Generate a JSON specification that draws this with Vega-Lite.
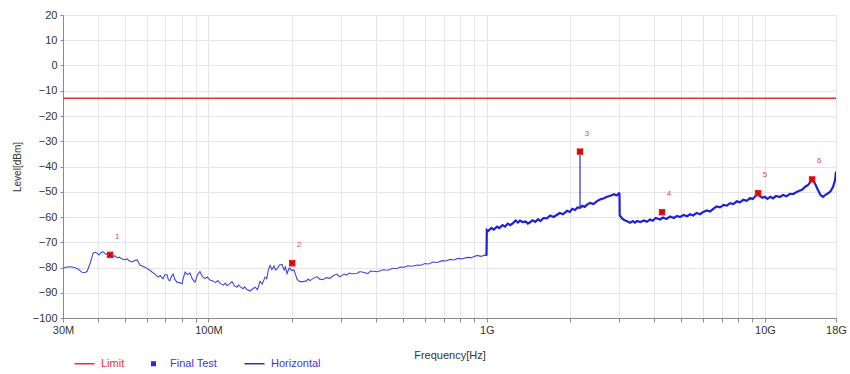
{
  "$schema": "https://vega.github.io/schema/vega-lite/v6.json",
  "width": 773,
  "height": 303,
  "autosize": {"type": "none"},
  "padding": {"left": 63, "top": 15, "right": 14, "bottom": 56},
  "background": "white",
  "config": {
    "font": "Liberation Sans",
    "view": {"stroke": "#d9d9d9"},
    "axis": {
      "labelColor": "#333333",
      "labelFontSize": 11,
      "titleColor": "#333333",
      "titleFontSize": 11,
      "titleFontWeight": "normal",
      "domainColor": "#8a8a8a",
      "tickColor": "#8a8a8a",
      "gridColor": "#e6e6e6"
    }
  },
  "datasets": {
    "limit": [{"series": "Limit", "level": -13}],
    "spike": [{"f": 2164, "level": -34.1, "base": -56.4}],
    "traceLow": [
      {"f": 30, "level": -80.2}, {"f": 31, "level": -79.8}, {"f": 31.8, "level": -79.7}, {"f": 33, "level": -80.0},
      {"f": 34, "level": -80.6}, {"f": 35.1, "level": -81.9}, {"f": 36, "level": -82.0}, {"f": 36.6, "level": -81.6},
      {"f": 37.5, "level": -78.5}, {"f": 38.1, "level": -76.0}, {"f": 38.5, "level": -74.3}, {"f": 39.2, "level": -74.0},
      {"f": 39.8, "level": -74.3}, {"f": 40.3, "level": -75.0}, {"f": 40.7, "level": -74.6}, {"f": 41.2, "level": -74.0},
      {"f": 41.8, "level": -73.8}, {"f": 42.6, "level": -74.6}, {"f": 43.5, "level": -75.0}, {"f": 44.3, "level": -75.3},
      {"f": 45.2, "level": -75.6}, {"f": 46.1, "level": -75.4}, {"f": 47, "level": -76.2}, {"f": 47.8, "level": -75.9},
      {"f": 48.9, "level": -76.6}, {"f": 50, "level": -76.9}, {"f": 51, "level": -76.6}, {"f": 52, "level": -77.4},
      {"f": 53.1, "level": -77.8}, {"f": 54.2, "level": -77.2}, {"f": 55.4, "level": -77.0}, {"f": 56.1, "level": -78.0},
      {"f": 56.7, "level": -79.0}, {"f": 58, "level": -79.5}, {"f": 59.1, "level": -79.9}, {"f": 61, "level": -80.8},
      {"f": 62.7, "level": -81.8}, {"f": 64.2, "level": -82.6}, {"f": 65.9, "level": -83.8}, {"f": 67, "level": -83.2},
      {"f": 68.6, "level": -84.5}, {"f": 69.6, "level": -83.0}, {"f": 70.9, "level": -82.8}, {"f": 71.8, "level": -84.9},
      {"f": 72.7, "level": -85.2}, {"f": 73.6, "level": -83.5}, {"f": 74.6, "level": -82.6}, {"f": 75.8, "level": -84.8},
      {"f": 77.1, "level": -85.8}, {"f": 78.7, "level": -86.0}, {"f": 80.3, "level": -86.4}, {"f": 81.3, "level": -84.0},
      {"f": 82.4, "level": -81.8}, {"f": 84, "level": -82.8}, {"f": 85.8, "level": -82.2}, {"f": 87.5, "level": -84.6},
      {"f": 89.5, "level": -85.8}, {"f": 91.2, "level": -83.0}, {"f": 93.2, "level": -81.6}, {"f": 95, "level": -83.5},
      {"f": 97.2, "level": -84.4}, {"f": 99, "level": -83.8}, {"f": 101.3, "level": -85.0}, {"f": 103.8, "level": -85.3},
      {"f": 106, "level": -86.0}, {"f": 108, "level": -85.2}, {"f": 110, "level": -86.2}, {"f": 113, "level": -87.0},
      {"f": 115, "level": -86.2}, {"f": 116.6, "level": -87.2},
      {"f": 119, "level": -86.5}, {"f": 121.5, "level": -85.6}, {"f": 124, "level": -87.3}, {"f": 126.7, "level": -87.8},
      {"f": 128, "level": -86.9}, {"f": 130, "level": -87.6}, {"f": 133.1, "level": -88.4}, {"f": 135, "level": -87.7}, {"f": 137, "level": -88.6}, {"f": 141, "level": -89.3},
      {"f": 144, "level": -88.5}, {"f": 147, "level": -87.8}, {"f": 150, "level": -88.8}, {"f": 153.2, "level": -85.5},
      {"f": 156, "level": -86.5}, {"f": 159.7, "level": -83.8}, {"f": 162, "level": -84.4}, {"f": 164, "level": -81.0},
      {"f": 166.4, "level": -79.2}, {"f": 169, "level": -80.8}, {"f": 172, "level": -79.4}, {"f": 174, "level": -81.0}, {"f": 176.3, "level": -80.6},
      {"f": 180, "level": -79.0}, {"f": 183.8, "level": -78.8}, {"f": 187, "level": -81.0}, {"f": 189, "level": -79.8}, {"f": 191.6, "level": -82.4},
      {"f": 195, "level": -80.2}, {"f": 199.6, "level": -81.2}, {"f": 203, "level": -81.0}, {"f": 208, "level": -84.6},
      {"f": 213, "level": -85.6}, {"f": 218.7, "level": -85.6}, {"f": 225, "level": -85.3}, {"f": 228, "level": -84.6}, {"f": 231.8, "level": -85.2},
      {"f": 238, "level": -84.3}, {"f": 245.6, "level": -83.6}, {"f": 251, "level": -84.6}, {"f": 258, "level": -84.8},
      {"f": 265, "level": -84.0}, {"f": 273.5, "level": -84.3}, {"f": 281, "level": -83.2}, {"f": 289.7, "level": -82.6},
      {"f": 295, "level": -83.6}, {"f": 300, "level": -83.4}, {"f": 307, "level": -82.6}, {"f": 314.8, "level": -83.0}, {"f": 320, "level": -82.2}, {"f": 328, "level": -82.5}, {"f": 342, "level": -82.4},
      {"f": 350, "level": -81.6}, {"f": 359, "level": -81.9}, {"f": 374, "level": -82.4}, {"f": 382, "level": -81.4}, {"f": 390, "level": -81.5}, {"f": 405, "level": -81.7},
      {"f": 424, "level": -80.9}, {"f": 440, "level": -81.1}, {"f": 460, "level": -80.3}, {"f": 475, "level": -80.5},
      {"f": 488, "level": -79.8}, {"f": 505, "level": -79.9}, {"f": 521, "level": -79.3}, {"f": 540, "level": -79.5},
      {"f": 562, "level": -79.0}, {"f": 580, "level": -79.1}, {"f": 600, "level": -78.4}, {"f": 620, "level": -78.6},
      {"f": 641, "level": -77.8}, {"f": 665, "level": -78.0}, {"f": 691, "level": -77.3}, {"f": 712, "level": -77.4},
      {"f": 738, "level": -76.8}, {"f": 760, "level": -77.0}, {"f": 789, "level": -76.4}, {"f": 815, "level": -76.6},
      {"f": 849, "level": -76.0}, {"f": 880, "level": -76.1}, {"f": 923, "level": -75.2}, {"f": 955, "level": -75.6},
      {"f": 986, "level": -75.1}, {"f": 998, "level": -75.3}
    ],
    "traceHigh": [
      {"f": 998, "level": -75.3}, {"f": 1001, "level": -65.2}, {"f": 1011, "level": -65.6},
      {"f": 1040, "level": -64.3}, {"f": 1060, "level": -65.0}, {"f": 1089, "level": -63.8}, {"f": 1110, "level": -64.4},
      {"f": 1140, "level": -63.2}, {"f": 1164, "level": -63.8}, {"f": 1190, "level": -62.6}, {"f": 1215, "level": -63.2},
      {"f": 1243, "level": -62.4}, {"f": 1270, "level": -61.4}, {"f": 1295, "level": -62.2}, {"f": 1317, "level": -61.4},
      {"f": 1345, "level": -62.0}, {"f": 1380, "level": -61.8}, {"f": 1405, "level": -62.6}, {"f": 1431, "level": -62.1},
      {"f": 1460, "level": -61.3}, {"f": 1495, "level": -61.9}, {"f": 1529, "level": -60.9}, {"f": 1560, "level": -61.6},
      {"f": 1600, "level": -60.4}, {"f": 1647, "level": -60.5}, {"f": 1690, "level": -59.4}, {"f": 1740, "level": -60.0},
      {"f": 1789, "level": -59.1}, {"f": 1830, "level": -58.4}, {"f": 1880, "level": -58.9}, {"f": 1944, "level": -57.5},
      {"f": 1990, "level": -58.0}, {"f": 2030, "level": -56.8}, {"f": 2077, "level": -57.2}, {"f": 2120, "level": -56.2},
      {"f": 2164, "level": -56.4}, {"f": 2200, "level": -55.6},
      {"f": 2250, "level": -56.0}, {"f": 2294, "level": -55.1}, {"f": 2350, "level": -54.4}, {"f": 2420, "level": -54.9},
      {"f": 2492, "level": -53.7}, {"f": 2560, "level": -53.0}, {"f": 2640, "level": -52.6}, {"f": 2707, "level": -52.0},
      {"f": 2780, "level": -51.6}, {"f": 2868, "level": -51.0}, {"f": 2930, "level": -51.5}, {"f": 2989, "level": -50.6},
      {"f": 3000, "level": -50.8}, {"f": 3005, "level": -59.4}, {"f": 3030, "level": -59.8}, {"f": 3064, "level": -60.6},
      {"f": 3120, "level": -61.2}, {"f": 3180, "level": -61.6}, {"f": 3274, "level": -62.3}, {"f": 3350, "level": -61.6},
      {"f": 3410, "level": -62.2}, {"f": 3470, "level": -61.6}, {"f": 3560, "level": -62.0}, {"f": 3676, "level": -61.4},
      {"f": 3760, "level": -61.9}, {"f": 3864, "level": -61.0}, {"f": 3950, "level": -61.5}, {"f": 4050, "level": -60.4},
      {"f": 4197, "level": -61.0}, {"f": 4300, "level": -60.2}, {"f": 4420, "level": -60.8}, {"f": 4559, "level": -59.8},
      {"f": 4700, "level": -60.4}, {"f": 4830, "level": -59.6}, {"f": 4952, "level": -60.0}, {"f": 5100, "level": -59.2},
      {"f": 5250, "level": -59.7}, {"f": 5381, "level": -58.9}, {"f": 5520, "level": -59.4}, {"f": 5680, "level": -58.4},
      {"f": 5845, "level": -58.9}, {"f": 6000, "level": -58.0}, {"f": 6180, "level": -57.4}, {"f": 6349, "level": -57.8},
      {"f": 6520, "level": -56.8}, {"f": 6700, "level": -55.8}, {"f": 6898, "level": -56.2}, {"f": 7100, "level": -55.2},
      {"f": 7300, "level": -55.5}, {"f": 7491, "level": -54.5}, {"f": 7700, "level": -54.9}, {"f": 7920, "level": -53.8},
      {"f": 8138, "level": -54.2}, {"f": 8350, "level": -53.2}, {"f": 8600, "level": -53.6}, {"f": 8841, "level": -52.5},
      {"f": 9050, "level": -52.9}, {"f": 9250, "level": -51.6}, {"f": 9445, "level": -51.0}, {"f": 9600, "level": -51.8},
      {"f": 9800, "level": -52.4}, {"f": 10000, "level": -52.0}, {"f": 10200, "level": -52.8}, {"f": 10450, "level": -52.0},
      {"f": 10690, "level": -52.6}, {"f": 10950, "level": -51.7}, {"f": 11300, "level": -52.1}, {"f": 11620, "level": -51.3},
      {"f": 11950, "level": -51.8}, {"f": 12300, "level": -50.8}, {"f": 12620, "level": -50.9}, {"f": 12950, "level": -50.2},
      {"f": 13300, "level": -49.6}, {"f": 13600, "level": -49.2}, {"f": 13950, "level": -48.0}, {"f": 14290, "level": -47.3},
      {"f": 14600, "level": -46.0}, {"f": 14890, "level": -45.4}, {"f": 15200, "level": -47.2}, {"f": 15520, "level": -49.4},
      {"f": 15850, "level": -51.4}, {"f": 16180, "level": -52.0}, {"f": 16500, "level": -51.2}, {"f": 16860, "level": -50.6},
      {"f": 17200, "level": -49.8}, {"f": 17570, "level": -48.0}, {"f": 17850, "level": -45.5}, {"f": 18000, "level": -42.0}
    ],
    "markers": [
      {"n": "1", "f": 44.3, "level": -75.0},
      {"n": "2", "f": 200, "level": -78.3},
      {"n": "3", "f": 2164, "level": -34.1},
      {"n": "4", "f": 4267, "level": -58.1},
      {"n": "5", "f": 9445, "level": -50.6},
      {"n": "6", "f": 14770, "level": -45.1}
    ]
  },
  "encoding": {
    "y": {
      "field": "level",
      "type": "quantitative",
      "scale": {"domain": [-100, 20], "nice": false, "zero": false},
      "axis": {
        "title": "Level[dBm]",
        "values": [-100, -90, -80, -70, -60, -50, -40, -30, -20, -10, 0, 10, 20],
        "tickSize": 3,
        "labelPadding": 3,
        "titlePadding": 10,
        "titleFontSize": 10,
        "grid": true
      }
    }
  },
  "layer": [
    {
      "data": {"name": "traceLow"},
      "mark": {"type": "line", "strokeWidth": 1.1, "clip": true, "color": "#4646dc"},
      "encoding": {
        "x": {
          "field": "f",
          "type": "quantitative",
          "scale": {"type": "log", "domain": [30, 18000], "nice": false},
          "axis": {
            "title": "Frequency[Hz]",
            "values": [30, 40, 50, 60, 70, 80, 90, 100, 200, 300, 400, 500, 600, 700, 800, 900, 1000, 2000, 3000, 4000, 5000, 6000, 7000, 8000, 9000, 10000, 18000],
            "labelExpr": "datum.value == 30 ? '30M' : datum.value == 100 ? '100M' : datum.value == 1000 ? '1G' : datum.value == 10000 ? '10G' : datum.value == 18000 ? '18G' : ''",
            "tickSize": 4,
            "labelPadding": 2,
            "titlePadding": 14,
            "labelFlush": false,
            "labelOverlap": false,
            "grid": true
          }
        }
      }
    },
    {
      "data": {"name": "traceHigh"},
      "mark": {"type": "line", "strokeWidth": 2.2, "clip": true, "color": "#2020d8"},
      "encoding": {"x": {"field": "f", "type": "quantitative"}}
    },
    {
      "data": {"name": "spike"},
      "mark": {"type": "rule", "strokeWidth": 1.2, "color": "#2a2ad8"},
      "encoding": {"x": {"field": "f", "type": "quantitative"}, "y2": {"field": "base"}}
    },
    {
      "data": {"name": "limit"},
      "mark": {"type": "rule", "strokeWidth": 1.5},
      "encoding": {
        "color": {
          "field": "series",
          "type": "nominal",
          "scale": {"domain": ["Limit", "Final Test", "Horizontal"], "range": ["#e8302c", "#2a2ad8", "#2a2ad8"]},
          "legend": {
            "title": null,
            "orient": "none",
            "legendX": 16,
            "legendY": 343,
            "direction": "horizontal",
            "columns": 3,
            "columnPadding": 23,
            "symbolType": "stroke",
            "symbolSize": 400,
            "symbolStrokeWidth": 1.5,
            "labelFontSize": 11,
            "labelOffset": 11,
            "encode": {
              "symbols": {
                "update": {
                  "shape": {"signal": "datum.value === 'Final Test' ? 'square' : 'stroke'"},
                  "size": {"signal": "datum.value === 'Final Test' ? 25 : 400"},
                  "fill": {"signal": "datum.value === 'Final Test' ? '#2a2ad8' : 'transparent'"},
                  "stroke": {"signal": "datum.value === 'Limit' ? '#e8302c' : '#2a2ad8'"},
                  "strokeWidth": {"signal": "datum.value === 'Final Test' ? 0 : 1.5"}
                }
              },
              "labels": {
                "update": {
                  "fill": {"signal": "datum.value === 'Limit' ? '#e8302c' : '#3a3ad8'"}
                }
              }
            }
          }
        }
      }
    },
    {
      "data": {"name": "markers"},
      "mark": {"type": "point", "shape": "square", "filled": true, "size": 42, "color": "#f01c1c", "opacity": 1},
      "encoding": {"x": {"field": "f", "type": "quantitative"}}
    },
    {
      "data": {"name": "markers"},
      "mark": {"type": "point", "shape": "M-0.7,-0.7L0.7,0.7M-0.7,0.7L0.7,-0.7", "filled": false, "size": 42, "stroke": "#900000", "strokeWidth": 1, "opacity": 1},
      "encoding": {"x": {"field": "f", "type": "quantitative"}}
    },
    {
      "data": {"name": "markers"},
      "mark": {"type": "text", "dx": 7, "dy": -18, "fontSize": 8, "color": "#e84a4a"},
      "encoding": {"x": {"field": "f", "type": "quantitative"}, "text": {"field": "n"}}
    }
  ]
}
